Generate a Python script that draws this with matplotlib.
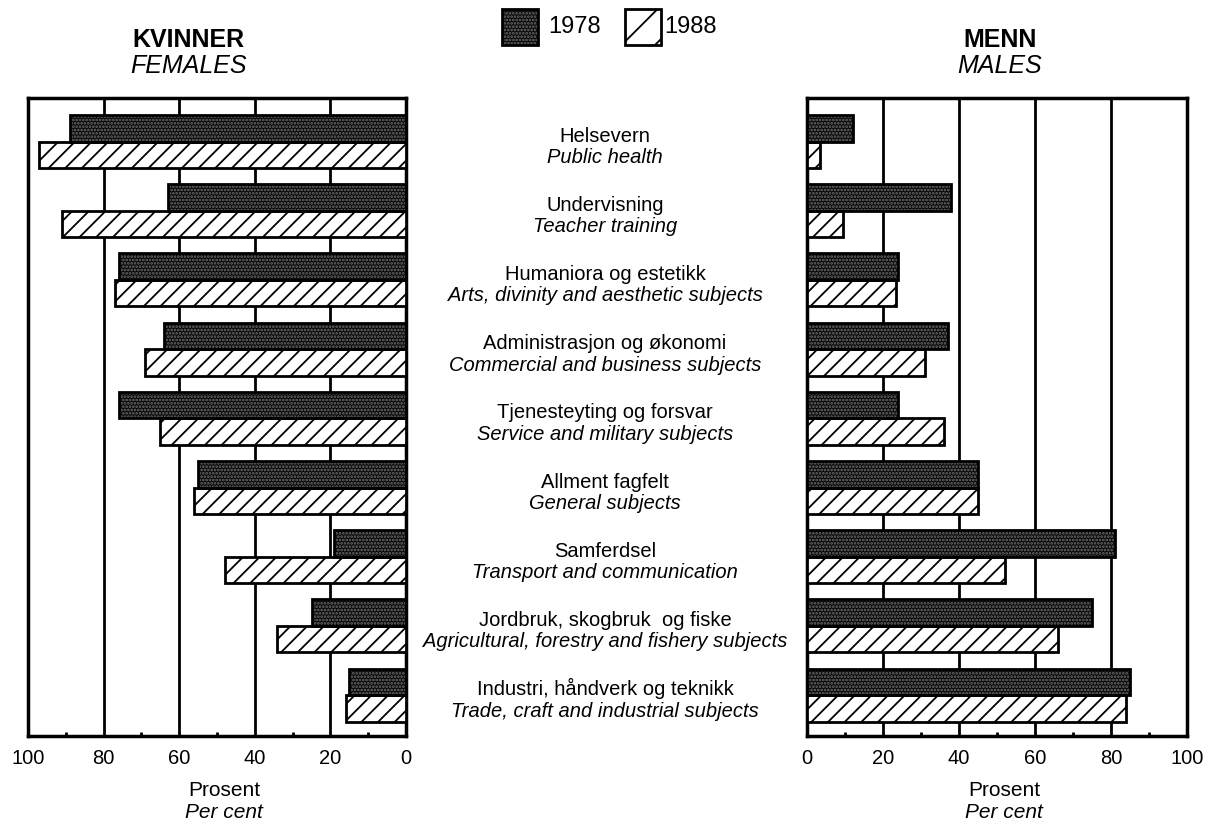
import matplotlib
matplotlib.use("Agg")
import matplotlib.pyplot as plt
import matplotlib.transforms as mtrans
import matplotlib.patches as mpatches
import numpy as np

plt.rcParams["font.family"] = ["Liberation Sans", "DejaVu Sans"]
plt.rcParams["hatch.linewidth"] = 1.3

# ── data ──────────────────────────────────────────────────────────────────────
labels_no = [
    "Helsevern", "Undervisning", "Humaniora og estetikk",
    "Administrasjon og økonomi", "Tjenesteyting og forsvar",
    "Allment fagfelt", "Samferdsel", "Jordbruk, skogbruk  og fiske",
    "Industri, håndverk og teknikk",
]
labels_en = [
    "Public health", "Teacher training", "Arts, divinity and aesthetic subjects",
    "Commercial and business subjects", "Service and military subjects",
    "General subjects", "Transport and communication",
    "Agricultural, forestry and fishery subjects",
    "Trade, craft and industrial subjects",
]
women_1978 = [89, 63, 76, 64, 76, 55, 19, 25, 15]
women_1988 = [97, 91, 77, 69, 65, 56, 48, 34, 16]
men_1978 = [12, 38, 24, 37, 24, 45, 81, 75, 85]
men_1988 = [3.5, 9.5, 23.5, 31, 36, 45, 52, 66, 84]
ticks = [0, 20, 40, 60, 80, 100]

# ── layout ────────────────────────────────────────────────────────────────────
W, H = 1213, 826
fig = plt.figure(figsize=(W / 100, H / 100), dpi=100)
bottom, top = 736, 98
axL = fig.add_axes([28 / W, 1 - bottom / H, (406 - 28) / W, (bottom - top) / H])
axR = fig.add_axes([807 / W, 1 - bottom / H, (1187 - 807) / W, (bottom - top) / H])

h = 0.383
y = np.arange(len(labels_no))
DARK = "#080808"
DOT_C = "#6e6e6e"
DOTS = "....."


def draw(ax, v78, v88):
    # 1978: dark stipple (light dots) with black outline
    ax.barh(y - h / 2, v78, height=h, color=DARK, edgecolor=DOT_C,
            hatch=DOTS, linewidth=0, zorder=3)
    ax.barh(y - h / 2, v78, height=h, fill=False, edgecolor="black",
            linewidth=2, zorder=4)
    # 1988: white with diagonal hatch
    ax.barh(y + h / 2, v88, height=h, color="white", edgecolor="black",
            hatch="//", linewidth=2, zorder=3)
    ax.set_ylim(len(y) - 1 + h + 0.207, -h - 0.246)
    ax.set_xticks(ticks)
    ax.set_xticks([10, 30, 50, 70, 90], minor=True)
    ax.set_yticks([])
    ax.grid(axis="x", color="black", linewidth=2)
    ax.set_axisbelow(True)
    ax.tick_params(axis="x", which="major", length=0, pad=9, labelsize=14.5)
    ax.tick_params(axis="x", which="minor", direction="in", length=3, width=2)
    for s in ax.spines.values():
        s.set_linewidth(2.5)


draw(axL, women_1978, women_1988)
axL.set_xlim(100, 0)
draw(axR, men_1978, men_1988)
axR.set_xlim(0, 100)

# ── category labels in the middle ─────────────────────────────────────────────
tr = mtrans.blended_transform_factory(fig.transFigure, axL.transData)
for i, (no, en) in enumerate(zip(labels_no, labels_en)):
    fig.text(605 / W, i + 0.0, no, transform=tr, ha="center", va="baseline",
             fontsize=14.5)
    fig.text(605 / W, i + 0.31, en, transform=tr, ha="center", va="baseline",
             fontsize=14.5, style="italic")

# ── titles ────────────────────────────────────────────────────────────────────
fig.text(188 / W, 1 - 40 / H, "KVINNER", ha="center", va="center",
         fontsize=18, fontweight="bold")
fig.text(188 / W, 1 - 66 / H, "FEMALES", ha="center", va="center",
         fontsize=18, style="italic")
fig.text(1000 / W, 1 - 40 / H, "MENN", ha="center", va="center",
         fontsize=18, fontweight="bold")
fig.text(1000 / W, 1 - 66 / H, "MALES", ha="center", va="center",
         fontsize=18, style="italic")

for xc in (224, 1004):
    fig.text(xc / W, 1 - 790 / H, "Prosent", ha="center", va="center",
             fontsize=15)
    fig.text(xc / W, 1 - 812 / H, "Per cent", ha="center", va="center",
             fontsize=15, style="italic")

# ── legend ────────────────────────────────────────────────────────────────────
sq = 36
fig.patches.append(mpatches.Rectangle((502 / W, 1 - 45 / H), sq / W, sq / H,
                   transform=fig.transFigure, facecolor=DARK, edgecolor=DOT_C,
                   hatch=DOTS, linewidth=0))
fig.patches.append(mpatches.Rectangle((502 / W, 1 - 45 / H), sq / W, sq / H,
                   transform=fig.transFigure, fill=False, edgecolor="black",
                   linewidth=2))
fig.text(548 / W, 1 - 27 / H, "1978", ha="left", va="center", fontsize=17)
fig.patches.append(mpatches.Rectangle((625 / W, 1 - 45 / H), sq / W, sq / H,
                   transform=fig.transFigure, facecolor="white",
                   edgecolor="black", hatch="/", linewidth=2))
fig.text(664 / W, 1 - 27 / H, "1988", ha="left", va="center", fontsize=17)

fig.savefig("out.png", dpi=100)
